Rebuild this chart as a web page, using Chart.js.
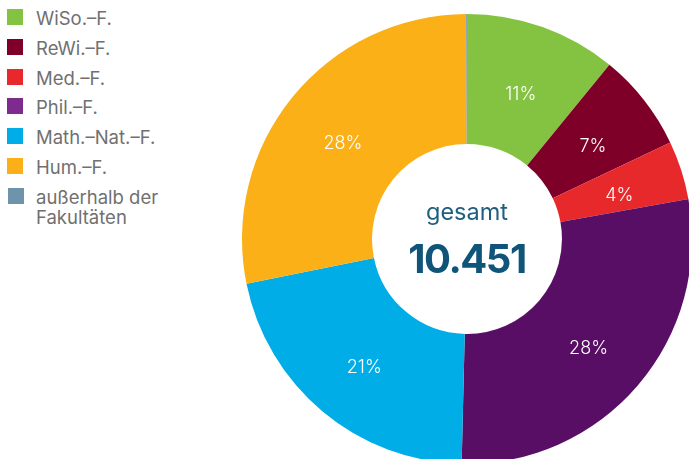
<!DOCTYPE html>
<html lang="de">
<head>
<meta charset="utf-8">
<title>Studierende nach Fakultäten</title>
<script src="https://cdn.jsdelivr.net/npm/chart.js@4.4.1/dist/chart.umd.min.js"></script>
<style>
    html, body {
        margin: 0;
        padding: 0;
        width: 689px;
        height: 459px;
        overflow: hidden;
        background: #ffffff;
        font-family: Inter, "Noto Sans", sans-serif;
    }
    #legend {
        position: absolute;
        left: 7px;
        top: 8px;
        margin: 0;
        padding: 0;
        list-style: none;
    }
    #legend li {
        position: relative;
        height: 29.8px;
        padding-left: 29px;
        font-size: 18.5px;
        line-height: 20px;
        color: #707070;
    }
    #legend li span {
        position: absolute;
        left: 0;
        top: 1px;
        width: 16px;
        height: 16px;
    }
    #chartBox {
        position: absolute;
        left: 242px;
        top: 14px;
        width: 450px;
        height: 450px;
    }
</style>
</head>
<body>
<ul id="legend"></ul>
<div id="chartBox"><canvas id="facultyChart"></canvas></div>
<script>
// Data
const labels = ["WiSo.–F.", "ReWi.–F.", "Med.–F.", "Phil.–F.", "Math.–Nat.–F.", "Hum.–F.", "außerhalb der Fakultäten"];
const students = [1140, 735, 440, 2950, 2240, 2940, 6];
const sliceColors = ["#84c341", "#7e0029", "#e8292c", "#570e64", "#00ade6", "#fbb017", "#6f93ab"];
const legendColors = ["#84c341", "#7e0029", "#e8292c", "#7e2a8e", "#00ade6", "#fbb017", "#6f93ab"];
const totalLabel = "gesamt";
const totalText = "10.451";

document.addEventListener("DOMContentLoaded", () => {
    // Legend built from the arrays
    const legendElement = document.getElementById("legend");
    labels.forEach((label, i) => {
        const item = document.createElement("li");
        const swatch = document.createElement("span");
        swatch.style.background = legendColors[i];
        item.appendChild(swatch);
        item.appendChild(document.createTextNode(label));
        if (i === labels.length - 1) {
            item.style.width = "150px";
            swatch.style.left = "1px";
        }
        legendElement.appendChild(item);
    });

    const total = students.reduce((a, b) => a + b, 0);

    // Percent labels on each slice
    const percentLabels = {
        id: "percentLabels",
        afterDatasetsDraw(chart) {
            const ctx = chart.ctx;
            const meta = chart.getDatasetMeta(0);
            ctx.save();
            ctx.fillStyle = "#ffffff";
            ctx.font = "300 18px Inter";
            ctx.textAlign = "center";
            ctx.textBaseline = "middle";
            meta.data.forEach((arc, i) => {
                const pct = Math.round(students[i] / total * 100);
                if (pct < 1) return;
                const pos = arc.getCenterPoint();
                ctx.fillText(pct + "%", pos.x, pos.y + 6); // labels sit a bit lower in the original
            });
            ctx.restore();
        },
    };

    // Total in the middle of the ring
    const centerText = {
        id: "centerText",
        afterDraw(chart) {
            const ctx = chart.ctx;
            const arc = chart.getDatasetMeta(0).data[0];
            ctx.save();
            ctx.textAlign = "center";
            ctx.textBaseline = "alphabetic";
            ctx.fillStyle = "#1f5e7e";
            ctx.font = "400 23.5px Inter";
            ctx.fillText(totalLabel, arc.x, arc.y - 19);
            ctx.fillStyle = "#0f5479";
            ctx.font = "700 40px Inter";
            ctx.letterSpacing = "-1.5px";
            ctx.fillText(totalText, arc.x, arc.y + 34);
            ctx.restore();
        },
    };

    new Chart(document.getElementById("facultyChart"), {
        type: "doughnut",
        data: {
            labels: labels,
            datasets: [{
                data: students,
                backgroundColor: sliceColors,
                borderWidth: 0,
            }],
        },
        options: {
            responsive: true,
            maintainAspectRatio: false,
            animation: false,
            cutout: "42.2%",
            layout: { padding: 0 },
            plugins: {
                legend: { display: false },
                tooltip: { enabled: false },
            },
        },
        plugins: [percentLabels, centerText],
    });
});
</script>
</body>
</html>
